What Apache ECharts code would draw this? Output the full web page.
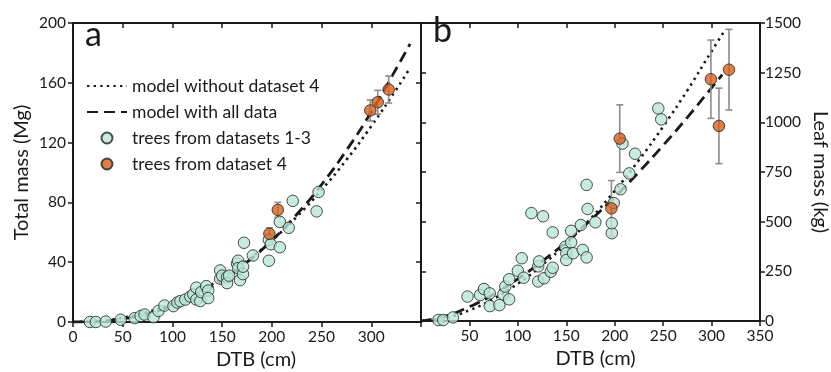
<!DOCTYPE html>
<html><head><meta charset="utf-8">
<script src="https://cdn.jsdelivr.net/npm/echarts@6/dist/echarts.min.js"></script>
<style>html,body{margin:0;padding:0;background:#fff}#c{width:831px;height:372px}</style>
</head><body><div id="c"></div>
<script>
// ---- tick labels ----
const xTickLabelsA = [0, 50, 100, 150, 200, 250, 300];
const xTickLabelsB = [50, 100, 150, 200, 250, 300, 350];
const yTickLabelsA = [0, 40, 80, 120, 160, 200];
const yTickLabelsB = [0, 250, 500, 750, 1000, 1250, 1500];

// ---- panel a: total mass (Mg) vs DTB (cm) ----
const greenA = [[17,0],[23,0],[33,0.3],[48,1.5],[62,2.6],[68,4],[72,5],[81,3.2],[86,7.4],[92,11],[101,10.6],[105,13],[108,14],[113,15],[118,17],[121,18.5],[124,23],[124,15],[128,14],[129,20],[134,24],[136,21],[136,16],[148,34.5],[148,29],[150,31],[155,30],[155,26],[157,31],[165,39],[166,41],[166,36],[168,28],[171,32],[171,37],[172,53],[181,44.5],[197,41],[197,55],[199,52],[208,50],[208,67],[217,63],[221,81],[245,74],[247,87]];
const orangeA = [[197.5,59],[206,75],[299,141.5],[306.5,147],[317.5,155.5]];
const errA = [4, 5, 7, 8, 9];
const modelNo4A = [[0,0],[25,0.6],[50,2.8],[75,6.6],[100,12.3],[125,19.9],[150,29.4],[175,41],[200,54.6],[225,70.4],[250,88.4],[275,108.5],[300,131],[325,155.4],[339,170]];
const modelAllA = [[0,0],[25,0.4],[50,2.2],[75,5.5],[100,10.8],[125,18.2],[150,27.9],[175,40],[200,54.6],[225,71.9],[250,91.9],[275,114.8],[300,140.5],[325,169.3],[339,186]];

// ---- panel b: leaf mass (kg) vs DTB (cm) ----
const greenB = [[18,5],[23,5],[33,18],[48,123],[61,131],[65,161],[71,139],[71,75],[81,80],[85,134],[87,173],[91,210],[91,109],[100,253],[104,316],[106,218],[114,543],[121,275],[121,199],[122,300],[126,527],[127,215],[134,248],[136,268],[136,446],[149,374],[150,341],[150,307],[155,454],[155,396],[157,341],[165,483],[167,358],[171,320],[171,685],[172,564],[180,497],[197,442],[197,492],[199,594],[206,663],[208,893],[215,743],[221,842],[245,1070],[248,1015]];
const orangeB = [[196.6,567],[205.2,918],[299.3,1217],[307.6,982],[318,1265]];
const errB = [140, 170, 197, 190, 203];
const modelNo4B = [[0,0],[25,15],[50,54],[75,112],[100,188],[125,281],[150,390],[175,515],[200,655],[225,810],[250,979],[275,1161],[300,1358],[314,1465]];
const modelAllB = [[0,0],[25,24],[50,72],[75,135],[100,212],[125,300],[150,398],[175,507],[200,624],[225,750],[250,884],[275,1025],[300,1174],[311,1240]];

const FONT = 'Lato';
const INK = '#1a1a1a';
const GREEN = '#b9e6d5';
const ORANGE = '#d4601b';
const ERR = '#8c8c8c';

function errRender(params, api) {
  const x = api.value(0), lo = api.value(1), hi = api.value(2);
  const p1 = api.coord([x, hi]), p2 = api.coord([x, lo]);
  const w = 3.5;
  const style = { stroke: ERR, lineWidth: 1.6, fill: null };
  return { type: 'group', children: [
    { type: 'line', shape: { x1: p1[0], y1: p1[1], x2: p2[0], y2: p2[1] }, style },
    { type: 'line', shape: { x1: p1[0]-w, y1: p1[1], x2: p1[0]+w, y2: p1[1] }, style },
    { type: 'line', shape: { x1: p2[0]-w, y1: p2[1], x2: p2[0]+w, y2: p2[1] }, style }
  ]};
}
const errDataA = orangeA.map((p, i) => [p[0], p[1] - errA[i], p[1] + errA[i]]);
const errDataB = orangeB.map((p, i) => [p[0], p[1] - errB[i], p[1] + errB[i]]);

const axLine = { show: true, onZero: false, lineStyle: { color: INK, width: 2 } };
const lbl = { fontFamily: FONT, fontSize: 15.5, color: INK };

function xAx(grid, pos, labels) {
  return {
    type: 'value', gridIndex: grid, position: pos, min: 0, max: 350, interval: 50,
    axisLine: axLine, splitLine: { show: false },
    axisTick: { show: true, inside: pos === 'top', length: 5, lineStyle: { color: INK, width: 1.5 } },
    axisLabel: labels ? Object.assign({ margin: 7, formatter: v => labels.includes(v) ? String(v) : '' }, lbl) : { show: false }
  };
}
function yAx(grid, pos, max, interval, labels, name, inside) {
  return {
    type: 'value', gridIndex: grid, position: pos, min: 0, max: max, interval: interval,
    axisLine: axLine, splitLine: { show: false },
    axisTick: { show: true, inside: inside, length: 5, lineStyle: { color: INK, width: 1.5 } },
    axisLabel: labels ? Object.assign({ margin: pos === 'left' ? 7 : 5, formatter: v => labels.includes(v) ? String(v) : '' }, lbl) : { show: false },
    name: name || '', nameLocation: 'middle', nameGap: pos === 'left' ? 41 : 50,
    nameRotate: pos === 'right' ? -90 : 90,
    nameTextStyle: { fontFamily: FONT, fontSize: 20, color: INK }
  };
}

const xA = xAx(0, 'bottom', xTickLabelsA);
xA.name = 'DTB (cm)'; xA.nameLocation = 'middle'; xA.nameGap = 25;
xA.nameTextStyle = { fontFamily: FONT, fontSize: 20, color: INK, padding: [0, 0, 0, 18] };
const xB = xAx(1, 'bottom', xTickLabelsB);
xB.name = 'DTB (cm)'; xB.nameLocation = 'middle'; xB.nameGap = 25;
xB.nameTextStyle = { fontFamily: FONT, fontSize: 20, color: INK, padding: [0, 0, 0, 10] };

const dottedStyle = { color: INK, width: 2.6, type: [2.4, 4.2] };
const dashedStyle = { color: INK, width: 2.8, type: [11, 6] };
const ptStyle = (c) => ({ color: c, borderColor: '#222', borderWidth: 1 });

const chart = echarts.init(document.getElementById('c'), null, { renderer: 'canvas' });
chart.setOption({
  animation: false,
  backgroundColor: '#fff',
  textStyle: { fontFamily: FONT },
  title: [
    { text: 'a', left: 80, top: 13, textStyle: { fontFamily: FONT, fontSize: 34, fontWeight: 'normal', color: INK } },
    { text: 'b', left: 428, top: 9, textStyle: { fontFamily: FONT, fontSize: 34, fontWeight: 'normal', color: INK } }
  ],
  legend: {
    orient: 'vertical', left: 81, top: 72, itemWidth: 40, itemHeight: 11, itemGap: 8,
    textStyle: { fontFamily: FONT, fontSize: 17.5, color: INK },
    data: [
      { name: 'model without dataset 4', itemStyle: { opacity: 0 } },
      { name: 'model with all data', itemStyle: { opacity: 0 } },
      { name: 'trees from datasets 1-3' },
      { name: 'trees from dataset 4' }
    ]
  },
  grid: [
    { left: 73, right: 410, top: 23, bottom: 50, outerBoundsMode: 'none', containLabel: false },
    { left: 421, right: 71, top: 23, bottom: 51, outerBoundsMode: 'none', containLabel: false }
  ],
  xAxis: [xA, xAx(0, 'top', null), xB, xAx(1, 'top', null)],
  yAxis: [
    yAx(0, 'left', 200, 40, yTickLabelsA, 'Total mass (Mg)', false),
    yAx(0, 'right', 200, 40, null, '', true),
    yAx(1, 'right', 1500, 250, yTickLabelsB, 'Leaf mass (kg)', false),
    yAx(1, 'left', 1500, 250, null, '', true)
  ],
  series: [
    { name: 'model without dataset 4', type: 'line', xAxisIndex: 0, yAxisIndex: 0, data: modelNo4A, smooth: true, showSymbol: false, symbol: 'none', lineStyle: dottedStyle, itemStyle: { color: INK }, z: 2 },
    { name: 'model with all data', type: 'line', xAxisIndex: 0, yAxisIndex: 0, data: modelAllA, smooth: true, showSymbol: false, symbol: 'none', lineStyle: dashedStyle, itemStyle: { color: INK }, z: 2 },
    { name: 'model without dataset 4', type: 'line', xAxisIndex: 2, yAxisIndex: 2, data: modelNo4B, smooth: true, showSymbol: false, symbol: 'none', lineStyle: dottedStyle, itemStyle: { color: INK }, z: 2 },
    { name: 'model with all data', type: 'line', xAxisIndex: 2, yAxisIndex: 2, data: modelAllB, smooth: true, showSymbol: false, symbol: 'none', lineStyle: dashedStyle, itemStyle: { color: INK }, z: 2 },
    { name: 'errA', type: 'custom', xAxisIndex: 0, yAxisIndex: 0, data: errDataA, renderItem: errRender, z: 3 },
    { name: 'errB', type: 'custom', xAxisIndex: 2, yAxisIndex: 2, data: errDataB, renderItem: errRender, z: 3 },
    { name: 'trees from datasets 1-3', type: 'scatter', xAxisIndex: 0, yAxisIndex: 0, data: greenA, symbolSize: 11.5, itemStyle: ptStyle(GREEN), z: 4 },
    { name: 'trees from datasets 1-3', type: 'scatter', xAxisIndex: 2, yAxisIndex: 2, data: greenB, symbolSize: 11.5, itemStyle: ptStyle(GREEN), z: 4 },
    { name: 'trees from dataset 4', type: 'scatter', xAxisIndex: 0, yAxisIndex: 0, data: orangeA, symbolSize: 11.5, itemStyle: ptStyle(ORANGE), z: 5 },
    { name: 'trees from dataset 4', type: 'scatter', xAxisIndex: 2, yAxisIndex: 2, data: orangeB, symbolSize: 11.5, itemStyle: ptStyle(ORANGE), z: 5 }
  ]
});
</script></body></html>
